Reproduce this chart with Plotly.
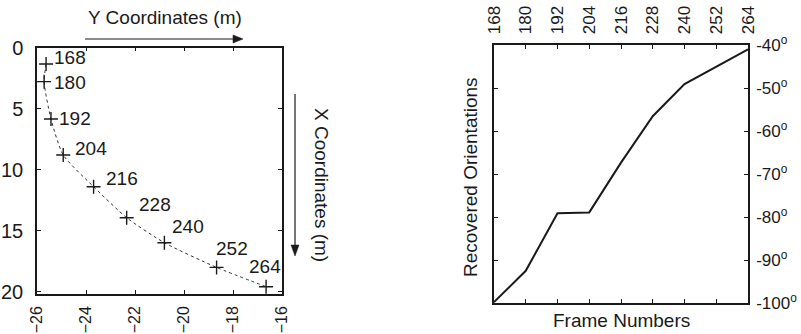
import plotly.graph_objects as go

# ---- data ----
frames = [168, 180, 192, 204, 216, 228, 240, 252, 264]
traj_y = [-25.63, -25.71, -25.43, -24.93, -23.69, -22.34, -20.80, -18.67, -16.65]  # Y coordinates (m)
traj_x = [1.35, 2.8, 5.86, 8.81, 11.41, 13.95, 16.0, 18.02, 19.6]                   # X coordinates (m)
orient = [-99.8, -92.5, -79.1, -78.9, -67.3, -56.5, -49.0, -45.0, -40.9]            # degrees

left_xticks = [-26, -24, -22, -20, -18, -16]
left_yticks = [0, 5, 10, 15, 20]
deg_ticks = [-100, -90, -80, -70, -60, -50, -40]
deg_text = [f"{d}<sup>o</sup>" for d in deg_ticks]

# label offsets (pixels) – style only
lab_dx = [24, 26, 24, 28, 28, 28, 24, 15, -1]
lab_dy = [6, -1, 1, 7, 8, 13, 16, 19, 20]

FONT = "Liberation Sans, Arial, sans-serif"
INK = "#1a1a1a"
W, H = 801, 334


def px(x):
    return x / W


def py(y):
    return 1 - y / H


fig = go.Figure()

fig.add_trace(go.Scatter(
    x=traj_y, y=traj_x, mode="lines+markers",
    line=dict(color="#333", width=1, dash="dot", shape="spline", smoothing=0.6),
    marker=dict(symbol="cross-thin", size=10, line=dict(color=INK, width=1.4)),
    xaxis="x", yaxis="y", showlegend=False, hoverinfo="skip"))

fig.add_trace(go.Scatter(
    x=frames, y=orient, mode="lines",
    line=dict(color=INK, width=2),
    xaxis="x2", yaxis="y2", showlegend=False, hoverinfo="skip"))

ax_common = dict(showgrid=False, zeroline=False, showline=True, linecolor=INK, linewidth=1.5,
                 mirror="ticks", ticks="inside", ticklen=4, tickwidth=1, tickcolor=INK,
                 automargin=False)

fig.update_layout(
    width=W, height=H, margin=dict(l=0, r=0, t=0, b=0, autoexpand=False),
    paper_bgcolor="white", plot_bgcolor="white",
    font=dict(family=FONT, color=INK),
    xaxis=dict(domain=[px(37), px(282)], range=[-26, -16], tickvals=left_xticks,
               tickangle=-90, anchor="y", ticklabelstandoff=4,
               tickfont=dict(family=FONT, size=16, color=INK), **ax_common),
    yaxis=dict(domain=[py(294), py(47.5)], range=[20.2, 0], tickvals=left_yticks,
               anchor="x", ticklabelstandoff=8,
               tickfont=dict(family=FONT, size=20, color=INK), **ax_common),
    xaxis2=dict(domain=[px(494), px(748)], range=[168, 264], tickvals=frames,
                tickangle=-90, side="top", anchor="y2", ticklabelstandoff=6,
                tickfont=dict(family=FONT, size=17, color=INK), **ax_common),
    yaxis2=dict(domain=[py(303), py(45.4)], range=[-100, -40], tickvals=deg_ticks,
                ticktext=deg_text, side="right", anchor="x2", ticklabelstandoff=3,
                tickfont=dict(family=FONT, size=17, color=INK), **ax_common),
)

# point labels
for fx, xv, yv, dx, dy in zip(frames, traj_y, traj_x, lab_dx, lab_dy):
    fig.add_annotation(x=xv, y=yv, xref="x", yref="y", text=str(fx), showarrow=False,
                       xshift=dx, yshift=dy, xanchor="center", yanchor="middle",
                       font=dict(family=FONT, size=19, color=INK))

# axis titles
titles = [
    ("Y Coordinates (m)", 165, 18, 0),
    ("X Coordinates (m)", 322, 185, 90),
    ("Recovered Orientations", 470, 177, -90),
    ("Frame Numbers", 621, 320, 0),
]
for txt, tx, ty, ang in titles:
    fig.add_annotation(x=px(tx), y=py(ty), xref="paper", yref="paper", text=txt,
                       textangle=ang, showarrow=False, xanchor="center", yanchor="middle",
                       font=dict(family=FONT, size=19, color=INK))

# arrows (shapes)
fig.add_shape(type="line", xref="paper", yref="paper", x0=px(85), y0=py(39), x1=px(236), y1=py(39),
              line=dict(color=INK, width=1.2))
fig.add_shape(type="path", xref="paper", yref="paper",
              path=f"M {px(243)} {py(39)} L {px(233)} {py(35)} L {px(233)} {py(43)} Z",
              fillcolor=INK, line=dict(color=INK, width=0.5))
fig.add_shape(type="line", xref="paper", yref="paper", x0=px(295), y0=py(94), x1=px(295), y1=py(248),
              line=dict(color=INK, width=1.2))
fig.add_shape(type="path", xref="paper", yref="paper",
              path=f"M {px(295)} {py(256)} L {px(291)} {py(245)} L {px(299)} {py(245)} Z",
              fillcolor=INK, line=dict(color=INK, width=0.5))

fig.write_html("out.html", config={"displayModeBar": False},
               post_script="document.body.style.margin='0px';")
